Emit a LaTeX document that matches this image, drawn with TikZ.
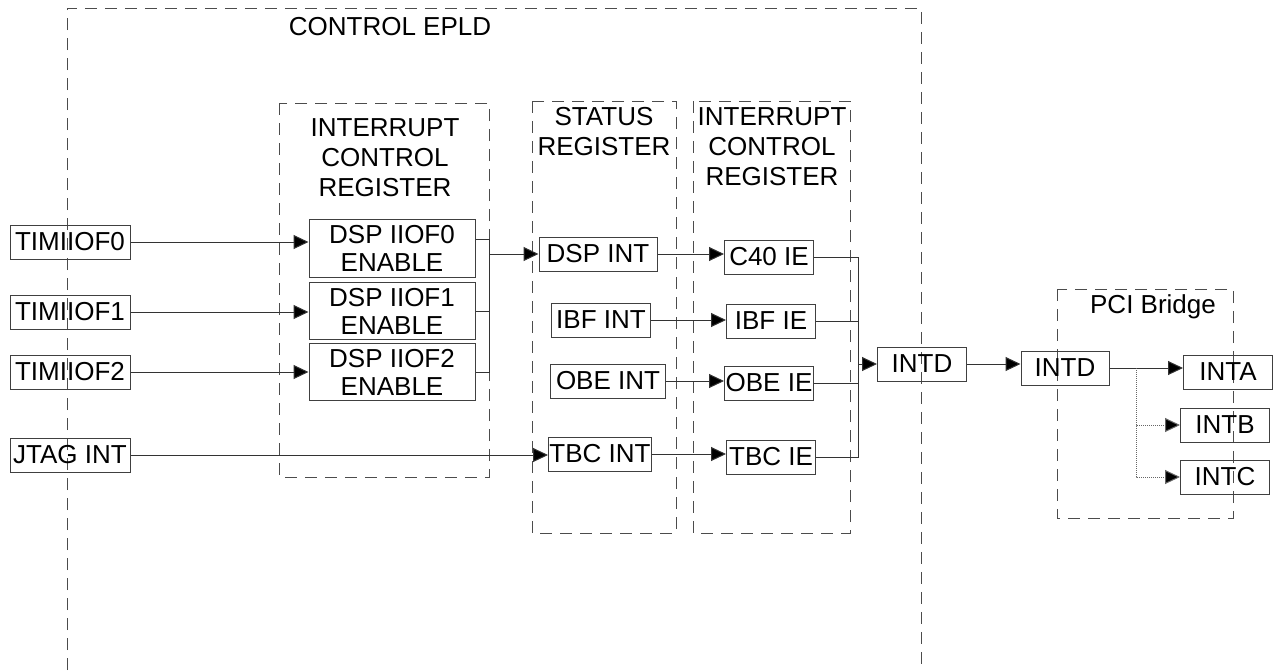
\documentclass[tikz,border=0pt]{standalone}
\usepackage{fontspec}
\setmainfont{Liberation Sans}
\usetikzlibrary{arrows.meta}

\tikzset{
  blk/.style={draw=black!75, line width=1pt, inner sep=0pt, minimum height=34pt,
    font=\fontsize{26}{28}\selectfont, align=center},
  grp/.style={draw=black!70, line width=1pt, dash pattern=on 12pt off 8pt},
  lbl/.style={align=center, inner sep=0pt, font=\fontsize{26}{30}\selectfont},
  wire/.style={draw=black!80, line width=1pt},
  sig/.style={wire, -{Triangle[length=15pt,width=14pt,fill=black]}},
  weak/.style={sig, draw=black!60, densely dotted},
}

\begin{document}
\begin{tikzpicture}[x=1pt,y=-1pt]
\useasboundingbox (0,0) rectangle (1279,670);
% dashed groups
\draw[grp] (67,670) -- (67,8) -- (921,8) -- (921,670);
\draw[grp] (279,103) rectangle (489,477);
\draw[grp] (532,101) rectangle (676,533);
\draw[grp] (693,101) rectangle (850,533);
\draw[grp] (1057,289) rectangle (1233,518);
\node[lbl] (epld) at (390,27) {CONTROL EPLD};
\node[lbl] (icrA) at (385,158) {INTERRUPT\\CONTROL\\REGISTER};
\node[lbl] (stat) at (604,132) {STATUS\\REGISTER};
\node[lbl] (icrB) at (772,147) {INTERRUPT\\CONTROL\\REGISTER};
\node[lbl] (pci) at (1153,307) {PCI Bridge};
% inputs
\node[blk, minimum width=120pt] (tim0) at (70,242) {TIMIIOF0};
\node[blk, minimum width=120pt] (tim1) at (70,312) {TIMIIOF1};
\node[blk, minimum width=120pt] (tim2) at (70,372) {TIMIIOF2};
\node[blk, minimum width=120pt] (jtag) at (70,455) {JTAG INT};
% enable bits
\node[blk, minimum width=166pt, minimum height=58pt] (en0) at (392,248) {DSP IIOF0\\ENABLE};
\node[blk, minimum width=166pt, minimum height=57pt] (en1) at (392,311) {DSP IIOF1\\ENABLE};
\node[blk, minimum width=166pt, minimum height=57pt] (en2) at (392,372) {DSP IIOF2\\ENABLE};
% status register
\node[blk, minimum width=118pt] (dspint) at (598,254) {DSP INT};
\node[blk, minimum width=99pt] (ibfint) at (601,320) {IBF INT};
\node[blk, minimum width=115pt] (obeint) at (608,381) {OBE INT};
\node[blk, minimum width=103pt] (tbcint) at (600,454) {TBC INT};
% interrupt enables
\node[blk, minimum width=89pt] (c40ie) at (769,257) {C40 IE};
\node[blk, minimum width=89pt] (ibfie) at (771,321) {IBF IE};
\node[blk, minimum width=89pt] (obeie) at (769,383) {OBE IE};
\node[blk, minimum width=89pt] (tbcie) at (771,457) {TBC IE};
% outputs
\node[blk, minimum width=89pt] (intd) at (922,364) {INTD};
\node[blk, minimum width=88pt] (pintd) at (1065,368) {INTD};
\node[blk, minimum width=89pt] (inta) at (1228,372) {INTA};
\node[blk, minimum width=89pt] (intb) at (1225,425) {INTB};
\node[blk, minimum width=89pt] (intc) at (1225,477) {INTC};
\coordinate (enbus) at (489,254);
\coordinate (iebus) at (858,364);
\coordinate (split) at (1136,368);
% connectors
\draw[sig] (tim0.east) -- (tim0.east -| en0.west);
\draw[sig] (tim1.east) -- (tim1.east -| en1.west);
\draw[sig] (tim2.east) -- (tim2.east -| en2.west);
\draw[wire] ([yshift=9pt]en0.east) -| (enbus |- en2.east) -- (en2.east);
\draw[wire] (en1.east) -- (en1.east -| enbus);
\draw[sig] (enbus) -- (dspint.west);
\draw[sig] (dspint.east) -- (dspint.east -| c40ie.west);
\draw[sig] (ibfint.east) -- (ibfint.east -| ibfie.west);
\draw[sig] (obeint.east) -- (obeint.east -| obeie.west);
\draw[sig] (jtag.east) -- (jtag.east -| tbcint.west);
\draw[sig] (tbcint.east) -- (tbcint.east -| tbcie.west);
\draw[wire] (c40ie.east) -| (iebus |- tbcie.east) -- (tbcie.east);
\draw[wire] (ibfie.east) -- (ibfie.east -| iebus);
\draw[wire] (obeie.east) -- (obeie.east -| iebus);
\draw[sig] (iebus) -- (intd.west);
\draw[sig] (intd.east) -- (intd.east -| pintd.west);
\draw[sig] (pintd.east) -- (pintd.east -| inta.west);
\draw[weak] (split) |- (intb.west);
\draw[weak] (split) |- (intc.west);
\end{tikzpicture}
\end{document}
